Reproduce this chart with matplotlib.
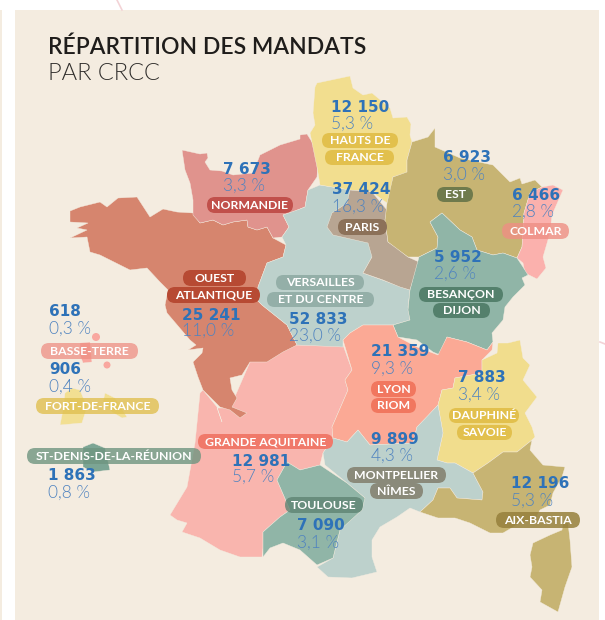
import matplotlib
matplotlib.use('Agg')
from matplotlib import pyplot as plt
from matplotlib.patches import Polygon, FancyBboxPatch, Rectangle, Circle

# values per CRCC
regions = ['normandie', 'hauts', 'paris', 'est', 'colmar', 'besancon', 'ouest', 'versailles',
           'lyon', 'dauphine', 'aquitaine', 'montpellier', 'aix', 'toulouse',
           'basse_terre', 'fort_de_france', 'reunion']
mandats = [7673, 12150, 37424, 6923, 6466, 5952, 25241, 52833,
           21359, 7883, 12981, 9899, 12196, 7090,
           618, 906, 1863]
parts = ['3,3', '5,3', '16,3', '3,0', '2,8', '2,6', '11,0', '23,0',
         '9,3', '3,4', '5,7', '4,3', '5,3', '3,1',
         '0,3', '0,4', '0,8']

# left edge of the number, y of number, y of percentage (pixels)
text_x = [223, 331, 332, 443, 512, 434, 182, 289, 371, 458, 232, 371, 511, 297, 49, 49, 48]
num_y = [169, 107, 190, 158, 195, 257, 315, 319, 352, 378, 461, 439, 484, 526, 312, 370, 475]
pct_y = [186, 124, 207, 175, 212, 274, 331, 336, 369, 395, 477, 456, 501, 543, 329, 387, 493]

# outlines
normandie = [(182,150),(200,154),(207,153),(208,158),(205,162),(210,170),(222,171),(233,175),(253,173),
             (260,155),(280,145),(300,139),(300,135),(307,134),(312,142),(318,158),(317,177),(308,190),
             (305,207),(300,209),(293,212),(283,215),(289,227),(282,237),(273,238),(267,227),(257,230),
             (248,227),(247,220),(233,222),(223,225),(213,220),(200,223),(193,215),(193,200),(190,183),(185,170)]
ouest = [(70,211),(80,207),(100,202),(107,207),(118,198),(137,197),(150,217),(163,209),(177,212),(193,213),
         (200,223),(213,220),(223,225),(233,222),(247,220),(248,227),(257,230),(267,227),(273,238),(286,245),
         (283,257),(267,263),(258,287),(257,300),(262,305),(287,325),(297,345),(283,352),(267,362),(250,362),
         (242,375),(230,378),(232,390),(237,398),(232,407),(247,413),(240,418),(230,410),(220,407),(203,390),
         (198,377),(193,362),(202,353),(203,348),(188,350),(196,345),(190,340),(167,313),(165,305),(168,290),(160,282),
         (147,268),(130,270),(100,255),(90,252),(87,237),(70,238),(87,230),(77,228),(88,223),(70,222)]
aquitaine = [(200,393),(203,390),(217,407),(222,422),(217,408),(230,408),(250,362),(297,345),(343,345),(352,370),(345,380),
             (348,390),(332,427),(333,438),(323,453),(320,465),(300,470),(287,462),(277,480),(290,510),(280,517),
             (263,532),(263,548),(262,557),(240,557),(220,550),(200,538),(182,532),(187,523),(177,520),(170,515),
             (187,487),(195,443)]
versailles = [(283,215),(300,209),(305,207),(308,190),(320,185),(352,190),(372,192),(387,215),(372,257),(363,273),
              (410,290),(408,307),(410,320),(393,325),(363,325),(350,333),(343,340),(343,347),(297,345),(287,325),
              (262,305),(257,300),(258,287),(267,263),(283,257),(286,245),(282,237),(289,227)]
hauts = [(315,87),(317,83),(350,76),(353,88),(363,95),(372,93),(390,108),(393,118),(407,117),(411,124),(410,135),
         (412,142),(407,160),(407,173),(393,177),(392,190),(387,203),(372,192),(350,190),(320,185),(317,167),
         (310,133),(315,125),(313,113)]
paris = [(350,190),(372,192),(387,210),(385,220),(388,242),(397,248),(408,257),(419,262),(410,290),(400,287),
         (383,280),(363,273),(372,257),(368,243),(333,235),(327,227),(332,213),(347,203)]
est = [(412,142),(428,137),(435,128),(435,147),(460,158),(493,165),(510,182),(520,178),(522,184),(535,180),(542,187),
       (530,193),(524,213),(522,247),(517,258),(503,253),(493,255),(477,250),(472,237),(460,230),(442,213),
       (430,222),(438,237),(437,248),(419,257),(408,257),(388,242),(385,220),(387,203),(393,177),(407,172),(407,160)]
colmar = [(542,187),(553,185),(563,190),(552,215),(550,233),(543,257),(546,268),(537,279),(525,273),(523,263),
          (517,258),(522,247),(524,213),(530,193)]
besancon = [(442,213),(460,230),(472,237),(477,250),(493,255),(503,253),(517,258),(523,267),(528,275),(522,278),
            (525,285),(513,297),(505,307),(503,320),(492,333),(493,342),(487,350),(467,342),(447,337),(440,355),
            (433,352),(417,340),(398,337),(393,325),(410,320),(408,310),(410,290),(419,257),(437,248),(438,237),(430,222)]
lyon = [(343,340),(350,333),(363,325),(393,325),(398,337),(417,347),(438,355),(447,337),(467,342),(487,350),(493,342),
        (492,350),(482,360),(482,373),(455,378),(453,388),(442,390),(438,405),(427,417),(417,427),(413,443),(370,445),
        (358,430),(347,442),(333,438),(332,427),(348,390),(345,380),(352,370)]
dauphine = [(482,360),(497,353),(498,343),(508,343),(520,340),(523,358),(530,365),(523,380),(537,397),(525,413),
            (532,427),(535,437),(532,440),(517,452),(503,452),(488,463),(473,473),(455,463),(447,463),(437,460),
            (443,433),(438,405),(442,390),(453,388),(455,378),(482,373)]
aix = [(532,440),(530,450),(543,465),(565,467),(562,477),(553,493),(550,505),(540,510),(535,520),(520,523),(503,533),
       (490,533),(470,523),(455,518),(438,518),(420,512),(433,500),(438,488),(450,488),(457,498),(482,500),(483,492),
       (473,473),(488,463),(503,452),(517,452)]
corse = [(568,523),(570,540),(572,567),(565,587),(558,612),(540,602),(542,590),(530,577),(532,567),(530,555),
         (533,543),(550,535),(562,530),(563,523)]
montpellier = [(323,453),(333,438),(347,442),(358,430),(370,445),(413,443),(417,427),(438,405),(443,433),(437,460),
               (447,463),(455,463),(473,473),(483,492),(482,500),(457,498),(450,488),(438,488),(433,500),(420,512),
               (410,508),(397,517),(380,527),(372,540),(372,557),(377,572),(352,578),(328,577),(317,567),(333,558),
               (340,530),(365,498),(347,483),(325,465)]
toulouse = [(287,462),(300,470),(320,465),(347,483),(365,498),(362,510),(340,530),(333,558),(317,565),(300,550),
            (283,543),(270,548),(263,557),(263,532),(280,517),(290,510),(277,480)]
guadeloupe = [(80,343),(90,342),(92,362),(83,363),(80,355)]
martinique_a = [(72,388),(80,390),(87,407),(82,423),(60,425),(63,410),(65,393)]
martinique_b = [(105,393),(115,398),(127,417),(122,418),(112,412),(103,402)]
reunion = [(83,447),(93,443),(105,448),(110,470),(93,472),(83,467)]

shapes = [(aquitaine, '#f9b5ae'), (ouest, '#d6856e'), (normandie, '#e0938d'), (versailles, '#bdd1cc'),
          (hauts, '#f2de8f'), (paris, '#b8a592'), (est, '#c7b473'), (colmar, '#fbb1ad'), (besancon, '#90b5a7'),
          (lyon, '#fba995'), (dauphine, '#f1dd8d'), (montpellier, '#bdd1cc'), (toulouse, '#90b5a7'),
          (aix, '#c7b473'), (corse, '#c7b473'), (guadeloupe, '#f9a79f'), (martinique_a, '#f2df92'),
          (martinique_b, '#f2df92'), (reunion, '#7ca594')]

# pill labels: text, x0, x1, y0, y1, colour, alpha
pills = [('NORMANDIE', 207, 293, 197, 213, '#c1504b', 1),
         ('OUEST', 183, 246, 270, 286, '#b74a33', 1),
         ('ATLANTIQUE', 167, 260, 287, 303, '#b74a33', 1),
         ('VERSAILLES', 276, 364, 275, 290, '#94afa8', 1),
         ('ET DU CENTRE', 267, 374, 292, 307, '#94afa8', 1),
         ('HAUTS DE', 322, 398, 133, 148, '#e2c04d', 1),
         ('FRANCE', 325, 394, 150, 165, '#e2c04d', 1),
         ('PARIS', 338, 387, 219, 235, '#8c7159', 1),
         ('EST', 437, 473, 187, 202, '#6f7a4c', 1),
         ('COLMAR', 502, 569, 223, 239, '#ee8f84', 0.8),
         ('BESANÇON', 419, 503, 287, 302, '#54806c', 1),
         ('DIJON', 433, 490, 303, 318, '#54806c', 1),
         ('LYON', 371, 416, 381, 397, '#f1775f', 1),
         ('RIOM', 371, 416, 398, 413, '#f1775f', 1),
         ('DAUPHINÉ', 449, 519, 408, 423, '#e2c04d', 1),
         ('SAVOIE', 457, 512, 425, 440, '#e2c04d', 1),
         ('GRANDE AQUITAINE', 198, 333, 434, 449, '#f0796a', 1),
         ('MONTPELLIER', 347, 446, 467, 483, '#8a8a7a', 1),
         ('NÎMES', 370, 423, 483, 499, '#8a8a7a', 1),
         ('TOULOUSE', 285, 363, 497, 513, '#5f8473', 0.8),
         ('AIX-BASTIA', 496, 580, 512, 528, '#96803c', 0.85),
         ('BASSE-TERRE', 41, 138, 343, 359, '#ee8f84', 0.75),
         ('FORT-DE-FRANCE', 36, 159, 398, 414, '#e0c050', 0.8),
         ('ST-DENIS-DE-LA-RÉUNION', 27, 201, 448, 464, '#6f9580', 0.8)]

fig = plt.figure(figsize=(6.05, 6.2), dpi=100, facecolor='white')
ax = fig.add_axes([0, 0, 1, 1])
ax.set_xlim(0, 605)
ax.set_ylim(620, 0)
ax.axis('off')

# panel behind the map
ax.add_patch(Rectangle((15, 10), 584, 610, fc='#f4ece0', ec='none'))
ax.add_patch(Rectangle((0, 10), 2, 610, fc='#f4ece0', ec='none'))
ax.plot([117, 122], [0, 10], color='#f3d3d6', lw=1.2)
ax.plot([600, 605], [342, 344], color='#f3d3d6', lw=1.2)

for pts, col in shapes:
    ax.add_patch(Polygon(pts, closed=True, fc=col, ec='#f4ece0', lw=0.3, joinstyle='round'))
ax.add_patch(Circle((96, 337), 4, fc='#f9a79f', ec='none'))
ax.add_patch(Circle((107, 365), 3.5, fc='#f9a79f', ec='none'))

for label, x0, x1, y0, y1, col, al in pills:
    h = y1 - y0
    ax.add_patch(FancyBboxPatch((x0, y0), x1 - x0, h, boxstyle='round,pad=0,rounding_size={}'.format(h / 2),
                                fc=col, ec='none', alpha=al))
    ax.text((x0 + x1) / 2, (y0 + y1) / 2 + 0.3, label, color='white', fontsize=8.8, fontweight='bold',
            family='Lato', ha='center', va='center')

for i in range(len(regions)):
    num = '{:,}'.format(mandats[i]).replace(',', ' ')
    ax.text(text_x[i], num_y[i], num, color='#2e72b8', fontsize=11, fontweight='bold',
            family='DejaVu Sans', ha='left', va='center')
    ax.text(text_x[i], pct_y[i], parts[i] + ' %', color='#4f83c0', fontsize=12.5, fontweight=300,
            family='Lato', ha='left', va='center')

ax.text(48, 47, 'RÉPARTITION DES MANDATS', color='#1f1d1b', fontsize=16.5, fontweight=600,
        family='Lato', ha='left', va='center')
ax.text(48, 73, 'PAR CRCC', color='#2f2d2b', fontsize=17, fontweight=300,
        family='Lato', ha='left', va='center')

plt.savefig('out.png', dpi=100)
